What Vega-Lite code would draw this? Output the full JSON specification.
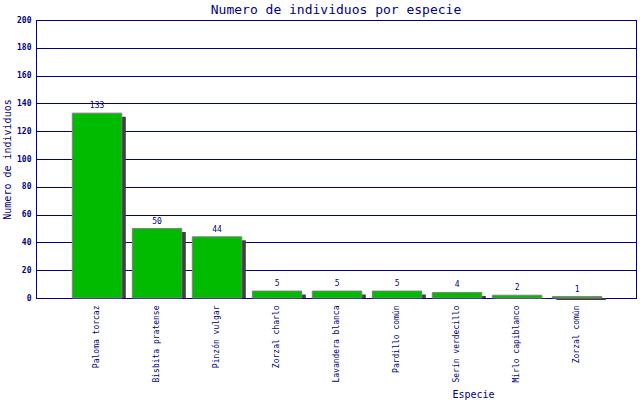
{
  "$schema": "https://vega.github.io/schema/vega-lite/v6.json",
  "width": 600,
  "height": 278,
  "autosize": {"type": "none"},
  "padding": {"left": 36, "top": 20, "right": 4, "bottom": 102},
  "background": "#ffffff",
  "title": {
    "text": "Numero de individuos por especie",
    "font": "DejaVu Sans Mono",
    "fontSize": 13,
    "fontWeight": "normal",
    "color": "#000080",
    "offset": 5,
    "dy": 6
  },
  "data": {
    "values": [
      {"especie": "Paloma torcaz", "n": 133},
      {"especie": "Bisbita pratense", "n": 50},
      {"especie": "Pinzón vulgar", "n": 44},
      {"especie": "Zorzal charlo", "n": 5},
      {"especie": "Lavandera blanca", "n": 5},
      {"especie": "Pardillo común", "n": 5},
      {"especie": "Serín verdecillo", "n": 4},
      {"especie": "Mirlo capiblanco", "n": 2},
      {"especie": "Zorzal común", "n": 1}
    ]
  },
  "encoding": {
    "x": {
      "field": "especie",
      "type": "nominal",
      "sort": null,
      "scale": {"paddingInner": 0.175, "paddingOuter": 0.5875, "align": 0.515},
      "axis": {
        "title": "Especie",
        "titleFont": "DejaVu Sans Mono",
        "titleFontSize": 10,
        "titleFontWeight": "normal",
        "titleColor": "#000080",
        "titleX": 437,
        "titleY": 99,
        "titleAlign": "center",
        "titleBaseline": "alphabetic",
        "labelAngle": 270,
        "labelAlign": "right",
        "labelBaseline": "middle",
        "labelFont": "DejaVu Sans Mono",
        "labelFontSize": 8,
        "labelColor": "#000080",
        "labelPadding": 7,
        "ticks": false,
        "domainColor": "#000080",
        "labelOverlap": false
      }
    },
    "y": {
      "field": "n",
      "type": "quantitative",
      "scale": {"domain": [0, 200], "nice": false},
      "axis": {
        "title": "Numero de individuos",
        "titleFont": "DejaVu Sans Mono",
        "titleFontSize": 10,
        "titleFontWeight": "normal",
        "titleColor": "#000080",
        "titlePadding": 4,
        "values": [0, 20, 40, 60, 80, 100, 120, 140, 160, 180, 200],
        "labelFont": "DejaVu Sans Mono",
        "labelFontSize": 8,
        "labelFontWeight": "bold",
        "labelColor": "#000080",
        "labelPadding": 5,
        "ticks": false,
        "grid": true,
        "gridColor": "#000080",
        "gridOpacity": 1,
        "gridWidth": 1,
        "domainColor": "#000080"
      }
    }
  },
  "layer": [
    {
      "mark": {"type": "bar", "color": "#404040", "xOffset": 4, "yOffset": 3.5},
      "encoding": {"y2": {"datum": 0}}
    },
    {
      "mark": {"type": "bar", "fill": "#00bb00", "stroke": "#808080", "strokeWidth": 1}
    },
    {
      "mark": {
        "type": "text",
        "baseline": "alphabetic",
        "dy": -5,
        "font": "DejaVu Sans Mono",
        "fontSize": 8,
        "color": "#000080"
      },
      "encoding": {"text": {"field": "n", "type": "quantitative"}}
    }
  ],
  "config": {
    "view": {"stroke": "#000080", "strokeWidth": 1}
  }
}
